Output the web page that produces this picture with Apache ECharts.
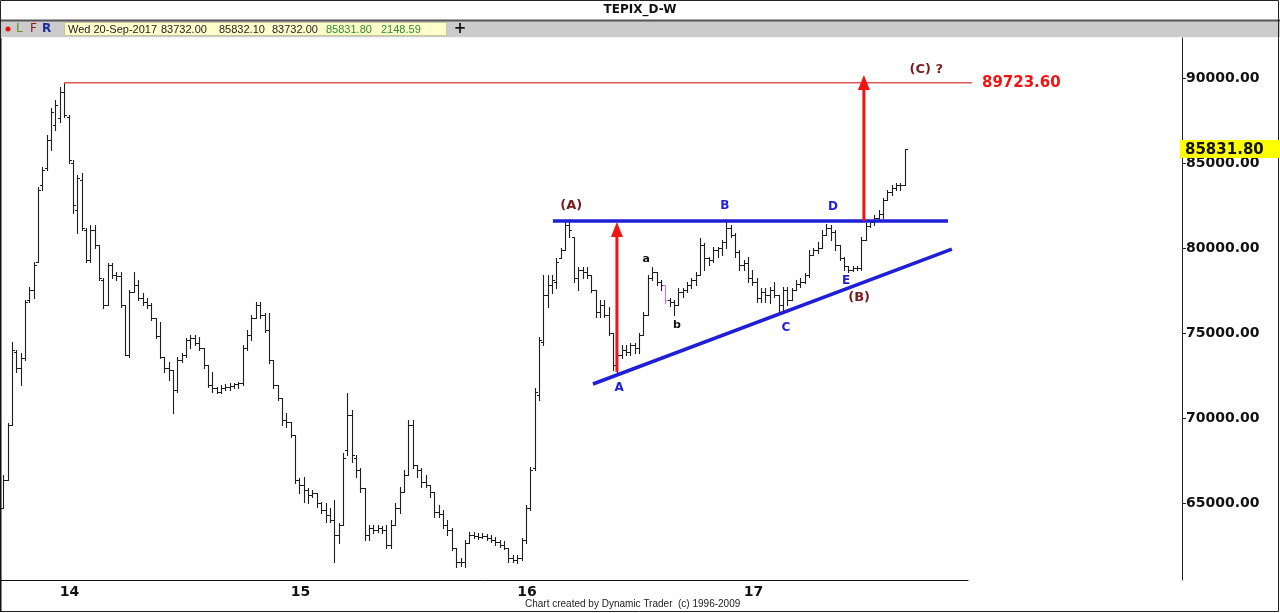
<!DOCTYPE html>
<html><head><meta charset="utf-8">
<script src="https://cdn.jsdelivr.net/npm/echarts@6/dist/echarts.min.js"></script>
<style>html,body{margin:0;padding:0;background:#fff}#c{width:1280px;height:613px}</style>
</head><body><div id="c"></div>
<script>
// ---------------- DATA ----------------
const firstWeek = '2013-10-02';   // first weekly bar
const weekSlots = 222;            // weekly slots shown on the time axis
const yTicks = [65000, 70000, 75000, 80000, 85000, 90000];

const open = [
64710,66350,69590,73880,72940,73530,76940,77530,79180,83710,
84710,86350,87240,87650,89180,87710,85000,82240,84000,81060,
79290,81060,80180,78120,76650,79000,78410,78350,76650,73710,
77410,77820,77060,76820,76650,75880,74820,73590,72940,72820,
71650,73410,73710,74590,74710,74410,74120,73120,71940,71770,
71530,71770,71820,71880,72000,72060,74120,74880,75880,76650,
76060,75180,73410,71940,71180,69880,69770,69000,66350,66060,
65770,65470,65590,65000,64590,64300,64000,63120,63710,68120,
70180,67650,66940,65880,63120,63530,63410,63530,63410,62530,
63710,64710,65650,66650,69590,67240,66940,66240,66060,65650,
64470,64350,63710,63410,62350,61530,61530,62650,63120,63060,
63000,63060,62940,62820,62710,62530,62350,61770,61650,61770,
62820,64710,67060,71350,74470,77240,77820,78000,79410,79880,
81350,80650,78240,78710,78590,78410,77530,76240,76650,76060,
75000,73120,73710,74000,73880,74290,74120,74880,76060,78240,
78590,78000,77820,76940,76820,76650,77410,77530,77820,78120,
78410,80180,79410,79300,79880,80000,80350,81180,80770,79770,
79000,79120,78240,78000,77060,77410,77240,77530,77240,76650,
77530,76940,77530,77880,78000,78410,79590,79880,80000,80770,
81180,80940,80180,79410,78940,78710,78820,78820,80470,81300,
81530,81770,82000,82820,83290,83530,83710,83732
];
const high = [
66650,69710,74470,74000,73820,76940,77710,79180,83590,84760,
86650,88240,88710,89470,89723.6,87820,85180,84290,84410,81180,
81350,81350,80180,78240,79120,79120,78590,78590,76650,77530,
78590,78120,77350,77060,76770,75880,75650,73590,73300,72820,
73590,73820,74710,74880,74880,74770,74120,73120,72710,71820,
71940,72000,72060,72060,72120,74290,75180,76060,76820,76820,
76180,76180,73410,71940,71180,70300,69770,69000,66470,66530,
65880,65770,65590,65060,65000,64710,65180,63820,67940,71470,
70470,67820,67060,65880,63710,63710,63710,63650,63710,64000,
65000,65940,66940,69880,69880,67240,67060,66650,66060,65650,
64880,64590,64000,63530,62350,61770,62820,63300,63300,63240,
63240,63180,63120,63000,62820,62770,62350,61940,61940,62940,
64880,67120,71770,74770,78410,78410,78410,79410,80000,81530,
81650,80650,78880,78880,78880,78410,77530,76940,76940,76530,
75000,74000,74290,74290,74410,74410,75000,76240,78410,78880,
78590,78120,77820,77060,76940,77650,77650,78000,78240,78590,
80590,80300,79470,80060,80060,80470,81530,81350,80880,79880,
79300,79470,78710,78240,77650,77650,77710,78000,77240,77710,
77710,77650,78120,78240,78530,79880,80000,80350,81060,81410,
81350,81060,80180,79470,78940,78940,78940,80650,81470,81650,
81940,82240,82940,83410,83710,83820,83820,85832.1
];
const low = [
64710,66350,69590,72710,71940,73410,76820,77060,79180,83410,
84590,85770,86940,87410,87710,85000,82060,80880,81060,79180,
79180,80000,78120,76470,76650,78240,78120,76530,73710,73590,
77410,76940,76650,76470,75770,74710,73530,72710,72240,70300,
71530,73300,73590,74120,74290,74000,72940,71820,71530,71470,
71470,71650,71650,71770,71770,71940,74000,74590,75880,75880,
75060,73240,71770,71060,69590,69470,68880,66180,65590,65060,
65000,65350,64770,64410,63880,63880,61530,62650,63710,67820,
67410,66530,65650,62820,62820,63240,63300,63240,62350,62350,
63710,64410,65650,66650,67060,66530,65940,65940,65350,64180,
64180,63530,63120,62240,61240,61300,61240,62650,62940,62880,
62940,62820,62710,62530,62410,62300,61530,61530,61470,61650,
62650,64590,66940,71060,74290,76530,77350,77650,79410,79880,
80650,78000,77530,78240,78240,77410,75940,75940,75940,74880,
72820,72710,73530,73710,73710,73820,73820,74880,76060,78120,
77820,77530,76770,76590,76060,76650,77120,77410,77650,77820,
78410,78710,79000,79180,79470,79590,80000,80650,79470,78710,
78710,78000,77820,76820,76820,76820,76770,77120,76240,76240,
76650,76940,77530,77710,77940,78300,79590,79710,80000,80770,
80470,79880,79300,78710,78590,78650,78710,78710,80470,81240,
81350,81650,81770,82820,83120,83410,83410,83732
];
const close = [
66350,69590,74000,72940,73530,76820,77530,79000,83410,84590,
86350,88000,88410,89180,87820,85180,82530,84120,81180,79290,
81060,80180,78240,76650,79000,78410,78350,76650,73710,77410,
77820,77060,76820,76650,75880,74820,73590,72940,72820,71650,
73410,73710,74590,74710,74410,74120,73120,71940,71770,71530,
71770,71820,71880,72000,72060,74120,74880,75880,76650,76060,
75180,73410,71940,71180,69880,69770,69000,66350,66060,65770,
65470,65590,65000,64590,64300,64000,63120,63710,67650,70180,
67820,66940,65880,63120,63530,63410,63530,63410,62530,63710,
64710,65650,66650,69590,67240,66940,66240,66060,65650,64470,
64350,63710,63410,62350,61530,61530,62650,63120,63060,63000,
63060,62940,62820,62710,62530,62350,61770,61650,61770,62820,
64710,66940,71530,74590,77240,77820,78120,79180,79880,81350,
81060,78240,78710,78590,78410,77530,76240,76650,76060,75000,
73120,73710,74000,73880,74290,74120,74880,76060,78240,78590,
78000,77820,76940,76820,76650,77410,77530,77820,78120,78410,
80180,79410,79300,79880,80000,80350,81180,80770,79770,79000,
79120,78240,78000,77060,77410,77240,77530,77240,76650,77530,
76940,77530,77880,78000,78410,79590,79880,80000,80770,81180,
80940,80180,79410,78940,78710,78820,78820,80470,81300,81530,
81770,82000,82820,83290,83530,83710,83732,85831.8
];
const highlightedBars = [152];      // bar drawn in magenta
const lastBar = {date:'Wed 20-Sep-2017', open:'83732.00', high:'85832.10', low:'83732.00', close:'85831.80', volume:'2148.59'};

// annotation values (x in week index units, y in price)
const targetLevel = 89723.6;
const resistanceLevel = 81590;
const supportFrom = [135.4, 72000], supportTo = [217.8, 79940];
const arrowUps = [{x:140.9, from:72710, to:81530}, {x:197.6, from:81590, to:90180}];
const waveLabels = [
  {x:130.4, y:82470, t:'(A)', k:'major'},
  {x:165.7, y:82470, t:'B',   k:'minor'},
  {x:190.5, y:82410, t:'D',   k:'minor'},
  {x:141.4, y:71770, t:'A',   k:'minor'},
  {x:179.7, y:75300, t:'C',   k:'minor'},
  {x:193.5, y:78060, t:'E',   k:'minor'},
  {x:196.5, y:77060, t:'(B)', k:'major'},
  {x:147.6, y:79350, t:'a',   k:'sub'},
  {x:154.7, y:75470, t:'b',   k:'sub'},
  {x:211.9, y:90470, t:'(C) ?', k:'major'}
];

// ---------------- BUILD ----------------
const categories = [];
const t0 = Date.parse(firstWeek + 'T00:00:00Z');
for (let i = 0; i < weekSlots; i++) categories.push(new Date(t0 + i * 7 * 86400000).toISOString().slice(0, 10));
const isYearStart = i => i > 0 && categories[i].slice(0, 4) !== categories[i - 1].slice(0, 4);
const bars = open.map((o, i) => [i, o, high[i], low[i], close[i]]);

const Y_MIN = 60471, Y_MAX = 92353;
const BLUE = '#1f1fd8', RED = '#f01414', MAROON = '#7a1a1a';

function renderBar(params, api) {
  const i = api.value(0);
  const pH = api.coord([i, api.value(2)]), pL = api.coord([i, api.value(3)]);
  const pO = api.coord([i, api.value(1)]), pC = api.coord([i, api.value(4)]);
  const x = Math.round(pH[0]) + 0.5;
  const col = highlightedBars.indexOf(i) >= 0 ? '#e070e8' : '#1e1e1e';
  const yo = Math.round(pO[1]) + 0.5, yc = Math.round(pC[1]) + 0.5;
  return {type: 'group', children: [
    {type: 'line', shape: {x1: x, y1: Math.round(pH[1]), x2: x, y2: Math.round(pL[1]) + 1}, style: {stroke: col, lineWidth: 1.1}},
    {type: 'line', shape: {x1: x - 2.5, y1: yo, x2: x, y2: yo}, style: {stroke: col, lineWidth: 1}},
    {type: 'line', shape: {x1: x, y1: yc, x2: x + 2.5, y2: yc}, style: {stroke: col, lineWidth: 1}}
  ]};
}

function renderAnnotations(params, api) {
  const ch = [];
  const lastIdx = 222.4;
  const t1 = api.coord([14, targetLevel]), t2 = api.coord([lastIdx, targetLevel]);
  ch.push({type: 'line', shape: {x1: t1[0], y1: t1[1], x2: t2[0], y2: t2[1]}, style: {stroke: '#e25555', lineWidth: 1.6}});
  const tl = api.coord([224.7, targetLevel]);
  ch.push({type: 'text', x: tl[0], y: tl[1], style: {text: targetLevel.toFixed(2), fill: RED, font: 'bold 15px "DejaVu Sans"', align: 'left', verticalAlign: 'middle'}});
  const r1 = api.coord([126.2, resistanceLevel]), r2 = api.coord([216.9, resistanceLevel]);
  ch.push({type: 'line', shape: {x1: r1[0], y1: r1[1], x2: r2[0], y2: r2[1]}, style: {stroke: BLUE, lineWidth: 3.5}});
  const s1 = api.coord(supportFrom), s2 = api.coord(supportTo);
  ch.push({type: 'line', shape: {x1: s1[0], y1: s1[1], x2: s2[0], y2: s2[1]}, style: {stroke: BLUE, lineWidth: 3.5}});
  arrowUps.forEach(a => {
    const b = api.coord([a.x, a.from]), t = api.coord([a.x, a.to]);
    ch.push({type: 'line', shape: {x1: b[0], y1: b[1], x2: t[0], y2: t[1] + 10}, style: {stroke: RED, lineWidth: 3}});
    ch.push({type: 'polygon', shape: {points: [[t[0], t[1]], [t[0] - 6, t[1] + 15], [t[0] + 6, t[1] + 15]]}, style: {fill: RED}});
  });
  waveLabels.forEach(w => {
    const p = api.coord([w.x, w.y]);
    const style = w.k === 'major' ? {fill: MAROON, font: 'bold 13px "DejaVu Sans"'} :
                  w.k === 'minor' ? {fill: BLUE, font: 'bold 12px "DejaVu Sans"'} :
                                    {fill: '#111', font: 'bold 11px "DejaVu Sans"'};
    ch.push({type: 'text', x: p[0], y: p[1], style: Object.assign({text: w.t, align: 'center', verticalAlign: 'middle'}, style)});
  });
  return {type: 'group', children: ch};
}

function renderLastPrice(params, api) {
  const p = api.coord([0, api.value(1)]);
  const cs = params.coordSys;
  const x = cs.x + cs.width - 2;
  return {type: 'group', children: [
    {type: 'rect', shape: {x: x, y: Math.round(p[1]) - 9, width: 100, height: 18}, style: {fill: '#ffff00'}},
    {type: 'text', x: x + 5, y: p[1] + 1, style: {text: api.value(1).toFixed(2), fill: '#111', font: 'bold 15px "DejaVu Sans"', align: 'left', verticalAlign: 'middle'}}
  ]};
}

const chart = echarts.init(document.getElementById('c'), null, {renderer: 'canvas'});
const smallFont = '11px "Liberation Sans"';
chart.setOption({
  animation: false,
  backgroundColor: '#ffffff',
  grid: [
    {left: 1, right: 312, top: 38, bottom: 33},
    {left: 1, right: 98, top: 38, bottom: 33}
  ],
  xAxis: [
    {type: 'category', gridIndex: 0, data: categories, boundaryGap: true,
     axisLine: {onZero: false, lineStyle: {color: '#111', width: 1}},
     axisTick: {interval: i => isYearStart(i), alignWithLabel: true, length: 5, lineStyle: {color: '#111'}},
     axisLabel: {interval: i => isYearStart(i), formatter: v => v.slice(2, 4), align: 'left', margin: 5,
                 color: '#111', fontWeight: 'bold', fontSize: 14, fontFamily: 'DejaVu Sans'},
     splitLine: {show: false}},
    {type: 'value', gridIndex: 0, min: -0.5, max: weekSlots - 0.5, show: false},
    {type: 'value', gridIndex: 1, min: 0, max: 1, show: false}
  ],
  yAxis: [
    {type: 'value', gridIndex: 0, min: Y_MIN, max: Y_MAX, show: false, splitLine: {show: false}},
    {type: 'value', gridIndex: 1, min: Y_MIN, max: Y_MAX, position: 'right',
     axisLine: {show: true, onZero: false, lineStyle: {color: '#222', width: 1}},
     axisTick: {show: true, length: 4, customValues: yTicks, lineStyle: {color: '#222'}},
     axisLabel: {customValues: yTicks, formatter: v => Number(v).toFixed(2), margin: 4,
                 color: '#111', fontWeight: 'bold', fontSize: 14, fontFamily: 'DejaVu Sans'},
     splitLine: {show: false}}
  ],
  series: [
    {type: 'custom', name: 'TEPIX', xAxisIndex: 0, yAxisIndex: 0, renderItem: renderBar,
     encode: {x: 0, y: [1, 2, 3, 4]}, data: bars, silent: true},
    {type: 'custom', name: 'annotations', xAxisIndex: 1, yAxisIndex: 0, renderItem: renderAnnotations,
     data: [[0, targetLevel]], silent: true, z: 5},
    {type: 'custom', name: 'last', xAxisIndex: 2, yAxisIndex: 1, renderItem: renderLastPrice,
     data: [[0, close[close.length - 1]]], silent: true, z: 6}
  ],
  graphic: [
    {type: 'rect', left: 0, top: 20, shape: {width: 1280, height: 17}, style: {fill: '#cbcbcb'}, silent: true},
    {type: 'line', shape: {x1: 0, y1: 20.5, x2: 1280, y2: 20.5}, style: {stroke: '#555', lineWidth: 2}},
    {type: 'line', shape: {x1: 0, y1: 37.5, x2: 1280, y2: 37.5}, style: {stroke: '#f4f4f4', lineWidth: 1}},
    {type: 'rect', shape: {x: 0.5, y: 0.5, width: 1278, height: 611}, style: {fill: 'none', stroke: '#222', lineWidth: 1}},
    {type: 'line', shape: {x1: 0.5, y1: 38, x2: 0.5, y2: 612}, style: {stroke: '#111', lineWidth: 2}},
    {type: 'text', x: 640, y: 10, style: {text: 'TEPIX_D-W', fill: '#111', font: 'bold 12px "DejaVu Sans"', align: 'center', verticalAlign: 'middle'}},
    {type: 'circle', shape: {cx: 8, cy: 29, r: 2.5}, style: {fill: '#e01010'}},
    {type: 'text', x: 16, y: 29, style: {text: 'L', fill: '#6f8a2a', font: '12px "DejaVu Sans"', verticalAlign: 'middle'}},
    {type: 'text', x: 30, y: 29, style: {text: 'F', fill: '#8b1c1c', font: '12px "DejaVu Sans"', verticalAlign: 'middle'}},
    {type: 'text', x: 42, y: 29, style: {text: 'R', fill: '#1c2a9c', font: 'bold 12px "DejaVu Sans"', verticalAlign: 'middle'}},
    {type: 'rect', shape: {x: 64.5, y: 22.5, width: 382, height: 13}, style: {fill: '#ffffcc', stroke: '#c8c8a0'}},
    {type: 'text', x: 68, y: 29.5, style: {text: lastBar.date, fill: '#222', font: smallFont, verticalAlign: 'middle'}},
    {type: 'text', x: 161, y: 29.5, style: {text: lastBar.open, fill: '#222', font: smallFont, verticalAlign: 'middle'}},
    {type: 'text', x: 219, y: 29.5, style: {text: lastBar.high, fill: '#222', font: smallFont, verticalAlign: 'middle'}},
    {type: 'text', x: 272, y: 29.5, style: {text: lastBar.low, fill: '#222', font: smallFont, verticalAlign: 'middle'}},
    {type: 'text', x: 326, y: 29.5, style: {text: lastBar.close, fill: '#2e8b2e', font: smallFont, verticalAlign: 'middle'}},
    {type: 'text', x: 381, y: 29.5, style: {text: lastBar.volume, fill: '#2e8b2e', font: smallFont, verticalAlign: 'middle'}},
    {type: 'text', x: 460, y: 29.5, style: {text: '+', fill: '#111', font: 'bold 15px "DejaVu Sans"', align: 'center', verticalAlign: 'middle'}},
    {type: 'text', x: 525, y: 604, style: {text: 'Chart created by Dynamic Trader  (c) 1996-2009', fill: '#222', font: '10px "Liberation Sans"', verticalAlign: 'middle'}}
  ]
});
</script>
</body></html>
